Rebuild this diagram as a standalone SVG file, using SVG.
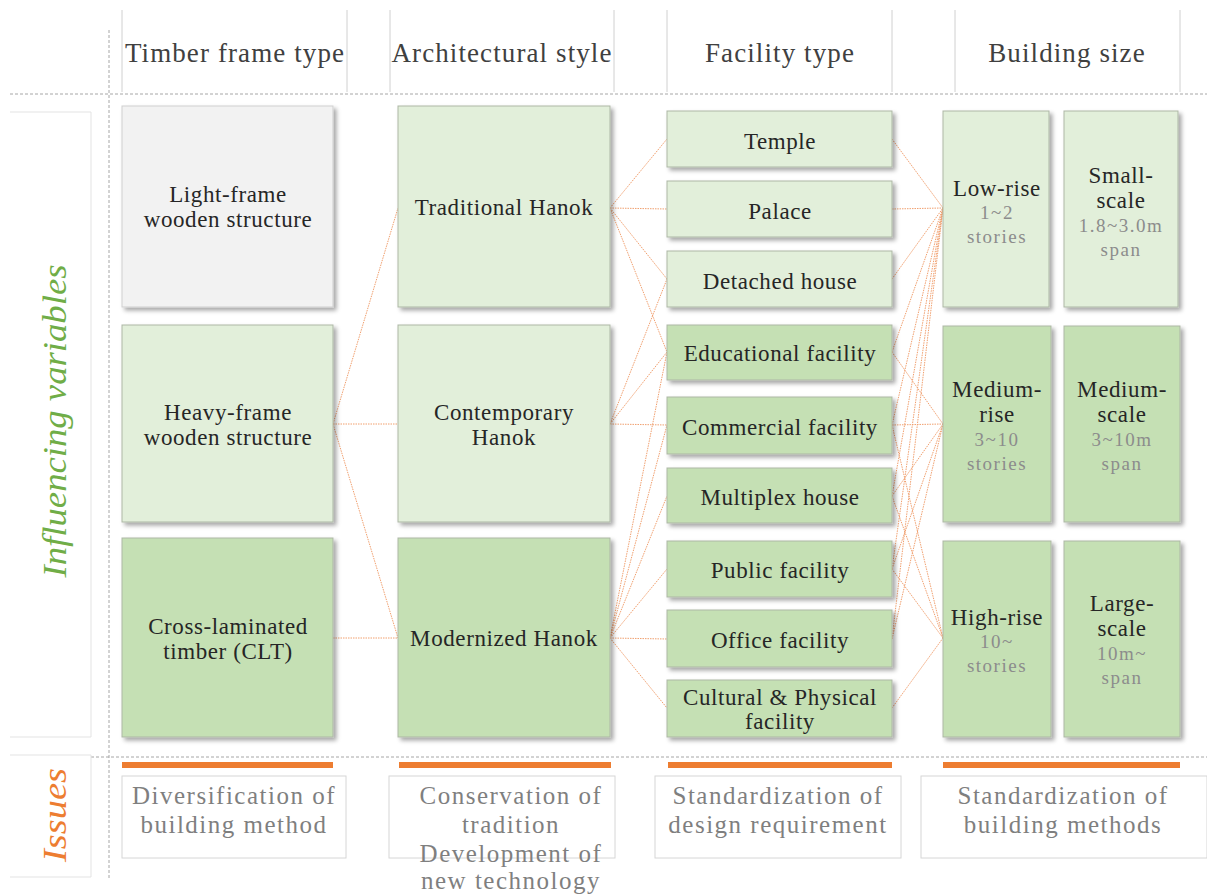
<svg xmlns="http://www.w3.org/2000/svg" width="1207" height="896" viewBox="0 0 1207 896">
  <style>
    text { font-family: "Liberation Serif", "DejaVu Serif", serif; text-anchor: middle; }
    .hdr { font-size: 27px; fill: #404040; letter-spacing: 1.1px; }
    .lbl { font-size: 23px; fill: #262626; letter-spacing: 0.6px; }
    .sub { font-size: 19px; fill: #8c8c8c; letter-spacing: 1.5px; }
    .iss { font-size: 25px; fill: #7f7f7f; letter-spacing: 1.5px; }
    .side { font-size: 34px; font-style: italic; }
    .grid { stroke: #d0d0d0; stroke-width: 1; fill: none; }
    .frame { stroke: #e3e3e3; stroke-width: 1; fill: none; }
    .dash { stroke: #a6a6a6; stroke-width: 1; stroke-dasharray: 3 2; fill: none; }
    .box { stroke: #adb7a6; stroke-width: 1; filter: url(#shadow); }
    .grey { fill: #f2f2f2; stroke: #cfcfcf; }
    .pale { fill: #e2efda; }
    .mid { fill: #c5e0b4; }
    .ibox { fill: #ffffff; stroke: #d6d6d6; stroke-width: 1; }
    .bar { fill: #ed7d31; }
    #connectors line { stroke: #f1a06f; stroke-width: 1; stroke-dasharray: 1.5 1; }
  </style>
  <defs>
    <filter id="shadow" x="-10%" y="-10%" width="130%" height="130%">
      <feDropShadow dx="3" dy="3" stdDeviation="2" flood-color="#000" flood-opacity="0.35"/>
    </filter>
  </defs>

  <rect width="1207" height="896" fill="#ffffff"/>

  <!-- header grid and section guides -->
  <g id="grid">
    <line class="grid" x1="122" y1="10" x2="122" y2="92"/>
    <line class="grid" x1="347" y1="10" x2="347" y2="92"/>
    <line class="grid" x1="390" y1="10" x2="390" y2="92"/>
    <line class="grid" x1="614" y1="10" x2="614" y2="92"/>
    <line class="grid" x1="667" y1="10" x2="667" y2="92"/>
    <line class="grid" x1="892" y1="10" x2="892" y2="92" stroke="#e6e6e6"/>
    <line class="grid" x1="955" y1="10" x2="955" y2="92"/>
    <line class="grid" x1="1180" y1="10" x2="1180" y2="92" stroke="#e6e6e6"/>
    <line class="dash" x1="109" y1="30" x2="109" y2="880"/>
    <line class="dash" x1="10" y1="94" x2="1207" y2="94"/>
    <line class="dash" x1="91" y1="757" x2="1207" y2="757"/>
    <polyline class="frame" points="10,112 91,112 91,737 10,737"/>
    <polyline class="frame" points="10,755 91,755 91,877 10,877"/>
  </g>

  <!-- column headings -->
  <g id="headings">
    <text class="hdr" x="235" y="62">Timber frame type</text>
    <text class="hdr" x="502" y="62">Architectural style</text>
    <text class="hdr" x="780" y="62">Facility type</text>
    <text class="hdr" x="1067" y="62">Building size</text>
  </g>

  <!-- row headings -->
  <g id="row-influencing">
    <text class="side" fill="#70ad47" transform="translate(66,421) rotate(-90)" textLength="313" lengthAdjust="spacingAndGlyphs">Influencing variables</text>
  </g>
  <g id="row-issues">
    <text class="side" fill="#ed7d31" transform="translate(66,815) rotate(-90)" textLength="94" lengthAdjust="spacingAndGlyphs">Issues</text>
  </g>

  <!-- connectors -->
  <g id="connectors">
    <!-- timber frame -> architectural style -->
    <line x1="333" y1="424" x2="398" y2="208"/>
    <line x1="333" y1="424" x2="398" y2="424"/>
    <line x1="333" y1="424" x2="398" y2="638"/>
    <line x1="333" y1="638" x2="398" y2="638"/>
    <!-- architectural style -> facility type -->
    <line x1="610" y1="208" x2="667" y2="139"/>
    <line x1="610" y1="208" x2="667" y2="209"/>
    <line x1="610" y1="208" x2="667" y2="279"/>
    <line x1="610" y1="208" x2="667" y2="352"/>
    <line x1="610" y1="424" x2="667" y2="279"/>
    <line x1="610" y1="424" x2="667" y2="352"/>
    <line x1="610" y1="424" x2="667" y2="425"/>
    <line x1="610" y1="638" x2="667" y2="352"/>
    <line x1="610" y1="638" x2="667" y2="425"/>
    <line x1="610" y1="638" x2="667" y2="496"/>
    <line x1="610" y1="638" x2="667" y2="569"/>
    <line x1="610" y1="638" x2="667" y2="639"/>
    <line x1="610" y1="638" x2="667" y2="708"/>
    <!-- facility type -> building height -->
    <line x1="892" y1="139" x2="943" y2="208"/>
    <line x1="892" y1="209" x2="943" y2="208"/>
    <line x1="892" y1="279" x2="943" y2="208"/>
    <line x1="892" y1="352" x2="943" y2="208"/>
    <line x1="892" y1="425" x2="943" y2="208"/>
    <line x1="892" y1="496" x2="943" y2="208"/>
    <line x1="892" y1="569" x2="943" y2="208"/>
    <line x1="892" y1="639" x2="943" y2="208"/>
    <line x1="892" y1="352" x2="943" y2="424"/>
    <line x1="892" y1="425" x2="943" y2="424"/>
    <line x1="892" y1="496" x2="943" y2="424"/>
    <line x1="892" y1="569" x2="943" y2="424"/>
    <line x1="892" y1="639" x2="943" y2="424"/>
    <line x1="892" y1="425" x2="943" y2="638"/>
    <line x1="892" y1="496" x2="943" y2="638"/>
    <line x1="892" y1="569" x2="943" y2="638"/>
    <line x1="892" y1="708" x2="943" y2="638"/>
  </g>

  <!-- timber frame type -->
  <g id="light-frame">
    <rect class="box grey" x="122" y="106" width="211" height="201"/>
    <text class="lbl" x="228" y="202">Light-frame</text>
    <text class="lbl" x="228" y="227">wooden structure</text>
  </g>
  <g id="heavy-frame">
    <rect class="box pale" x="122" y="325" width="211" height="197"/>
    <text class="lbl" x="228" y="420">Heavy-frame</text>
    <text class="lbl" x="228" y="445">wooden structure</text>
  </g>
  <g id="clt">
    <rect class="box mid" x="122" y="538" width="211" height="199"/>
    <text class="lbl" x="228" y="634">Cross-laminated</text>
    <text class="lbl" x="228" y="659">timber (CLT)</text>
  </g>

  <!-- architectural style -->
  <g id="traditional-hanok">
    <rect class="box pale" x="398" y="106" width="212" height="201"/>
    <text class="lbl" x="504" y="215">Traditional Hanok</text>
  </g>
  <g id="contemporary-hanok">
    <rect class="box pale" x="398" y="325" width="212" height="197"/>
    <text class="lbl" x="504" y="420">Contemporary</text>
    <text class="lbl" x="504" y="445">Hanok</text>
  </g>
  <g id="modernized-hanok">
    <rect class="box mid" x="398" y="538" width="212" height="199"/>
    <text class="lbl" x="504" y="646">Modernized Hanok</text>
  </g>

  <!-- facility type -->
  <g id="temple">
    <rect class="box pale" x="667" y="111" width="225" height="56"/>
    <text class="lbl" x="780" y="149">Temple</text>
  </g>
  <g id="palace">
    <rect class="box pale" x="667" y="181" width="225" height="56"/>
    <text class="lbl" x="780" y="219">Palace</text>
  </g>
  <g id="detached-house">
    <rect class="box pale" x="667" y="251" width="225" height="56"/>
    <text class="lbl" x="780" y="289">Detached house</text>
  </g>
  <g id="educational">
    <rect class="box mid" x="667" y="325" width="225" height="55"/>
    <text class="lbl" x="780" y="361">Educational facility</text>
  </g>
  <g id="commercial">
    <rect class="box mid" x="667" y="397" width="225" height="57"/>
    <text class="lbl" x="780" y="435">Commercial facility</text>
  </g>
  <g id="multiplex">
    <rect class="box mid" x="667" y="468" width="225" height="55"/>
    <text class="lbl" x="780" y="505">Multiplex house</text>
  </g>
  <g id="public">
    <rect class="box mid" x="667" y="541" width="225" height="56"/>
    <text class="lbl" x="780" y="578">Public facility</text>
  </g>
  <g id="office">
    <rect class="box mid" x="667" y="610" width="225" height="57"/>
    <text class="lbl" x="780" y="648">Office facility</text>
  </g>
  <g id="cultural">
    <rect class="box mid" x="667" y="680" width="225" height="57"/>
    <text class="lbl" x="780" y="705">Cultural &amp; Physical</text>
    <text class="lbl" x="780" y="729">facility</text>
  </g>

  <!-- building size -->
  <g id="low-rise">
    <rect class="box pale" x="943" y="111" width="106" height="196"/>
    <text class="lbl" x="997" y="196">Low-rise</text>
    <text class="sub" x="997" y="219">1~2</text>
    <text class="sub" x="997" y="243">stories</text>
  </g>
  <g id="small-scale">
    <rect class="box pale" x="1064" y="111" width="114" height="196"/>
    <text class="lbl" x="1121" y="183">Small-</text>
    <text class="lbl" x="1121" y="208">scale</text>
    <text class="sub" x="1121" y="232">1.8~3.0m</text>
    <text class="sub" x="1121" y="256">span</text>
  </g>
  <g id="medium-rise">
    <rect class="box mid" x="943" y="326" width="108" height="196"/>
    <text class="lbl" x="997" y="397">Medium-</text>
    <text class="lbl" x="997" y="422">rise</text>
    <text class="sub" x="997" y="446">3~10</text>
    <text class="sub" x="997" y="470">stories</text>
  </g>
  <g id="medium-scale">
    <rect class="box mid" x="1064" y="326" width="116" height="196"/>
    <text class="lbl" x="1122" y="397">Medium-</text>
    <text class="lbl" x="1122" y="422">scale</text>
    <text class="sub" x="1122" y="446">3~10m</text>
    <text class="sub" x="1122" y="470">span</text>
  </g>
  <g id="high-rise">
    <rect class="box mid" x="943" y="541" width="108" height="196"/>
    <text class="lbl" x="997" y="625">High-rise</text>
    <text class="sub" x="997" y="648">10~</text>
    <text class="sub" x="997" y="672">stories</text>
  </g>
  <g id="large-scale">
    <rect class="box mid" x="1064" y="541" width="116" height="196"/>
    <text class="lbl" x="1122" y="611">Large-</text>
    <text class="lbl" x="1122" y="636">scale</text>
    <text class="sub" x="1122" y="660">10m~</text>
    <text class="sub" x="1122" y="684">span</text>
  </g>

  <!-- issues -->
  <g id="issue-method">
    <rect class="bar" x="122" y="762" width="211" height="6"/>
    <rect class="ibox" x="122" y="776" width="224" height="82"/>
    <text class="iss" x="234" y="804">Diversification of</text>
    <text class="iss" x="234" y="833">building method</text>
  </g>
  <g id="issue-tradition">
    <rect class="bar" x="399" y="762" width="212" height="6"/>
    <rect class="ibox" x="389" y="776" width="226" height="82"/>
    <text class="iss" x="511" y="804">Conservation of</text>
    <text class="iss" x="511" y="833">tradition</text>
    <text class="iss" x="511" y="862">Development of</text>
    <text class="iss" x="511" y="889">new technology</text>
  </g>
  <g id="issue-design">
    <rect class="bar" x="668" y="762" width="224" height="6"/>
    <rect class="ibox" x="655" y="776" width="246" height="82"/>
    <text class="iss" x="778" y="804">Standardization of</text>
    <text class="iss" x="778" y="833">design requirement</text>
  </g>
  <g id="issue-building">
    <rect class="bar" x="943" y="762" width="237" height="6"/>
    <rect class="ibox" x="921" y="776" width="286" height="82"/>
    <text class="iss" x="1063" y="804">Standardization of</text>
    <text class="iss" x="1063" y="833">building methods</text>
  </g>
</svg>
